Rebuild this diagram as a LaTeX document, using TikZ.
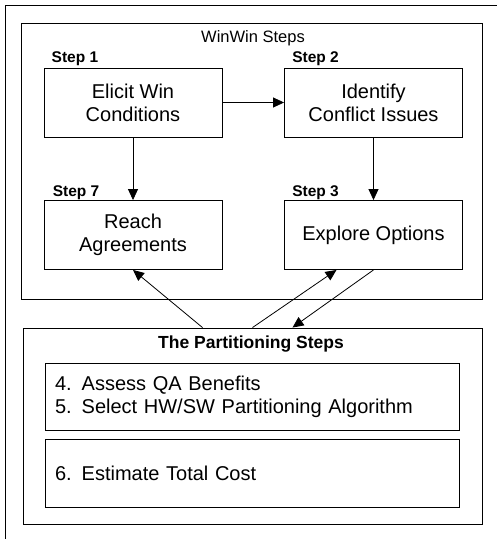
\documentclass[tikz,border=0pt]{standalone}
\usepackage{fontspec}
\setmainfont{Liberation Sans}
\usetikzlibrary{arrows.meta}

\begin{document}
\begin{tikzpicture}[x=1pt,y=-1pt]
\useasboundingbox (0,0) rectangle (497,539);
% page frame
\draw [line width=0.9pt] (5,539) -- (5,5) -- (497,5);

\begin{scope}[every node/.style={draw,line width=0.9pt,inner sep=0pt}]
    \node (ww) at (251.5,161) [minimum width=461pt,minimum height=276pt] {};
    \node (part) at (252.5,426) [minimum width=459pt,minimum height=196pt] {};
\end{scope}

\node (wwtitle) [anchor=base,font=\fontsize{16.5}{19}\selectfont] at (253,42) {WinWin Steps};
\node (parttitle) [anchor=base,font=\fontsize{17.5}{20}\selectfont\bfseries] at (251,348) {The Partitioning Steps};

\begin{scope}[every node/.style={draw,line width=0.9pt,minimum width=178pt,minimum height=69pt,
              align=center,font=\fontsize{20}{23}\selectfont}]
    \node (s1) at (133,102.5) {Elicit Win\\Conditions};
    \node (s2) at (373.5,102.5) {Identify\\Conflict Issues};
    \node (s7) at (133,235) {Reach\\Agreements};
    \node (s3) at (373.5,235) {Explore Options};
\end{scope}

\begin{scope}[every node/.style={anchor=base west,inner sep=0pt,font=\fontsize{15.5}{18}\selectfont\bfseries}]
    \node (l1) at ([xshift=8pt,yshift=5pt]s1.north west) {Step 1};
    \node (l2) at ([xshift=8pt,yshift=5pt]s2.north west) {Step 2};
    \node (l7) at ([xshift=9pt,yshift=4pt]s7.north west) {Step 7};
    \node (l3) at ([xshift=8pt,yshift=4pt]s3.north west) {Step 3};
\end{scope}

\begin{scope}[every node/.style={draw,line width=0.9pt,text width=394pt,inner xsep=10pt,
              align=left,font=\fontsize{20}{23}\selectfont}]
    \node (p1) at (252,396.5) [minimum height=67pt] {4. Assess QA Benefits\\5. Select HW/SW Partitioning Algorithm};
    \node (p2) at (252,473) [minimum height=68pt] {6. Estimate Total Cost};
\end{scope}

\begin{scope}[>={Triangle[length=11pt,width=10pt]},
              every edge/.style={draw,line width=0.8pt}]
    \path [->] (s1) edge (s2);
    \path [->] (s1) edge (s7);
    \path [->] (s2) edge (s3);
    \path [->] ([xshift=-50pt]part.north) edge (s7.south);
    \path [->] (part.north) edge ([xshift=-37pt]s3.south);
    \path [->] (s3.south) edge ([xshift=40pt]part.north);
\end{scope}
\end{tikzpicture}
\end{document}
